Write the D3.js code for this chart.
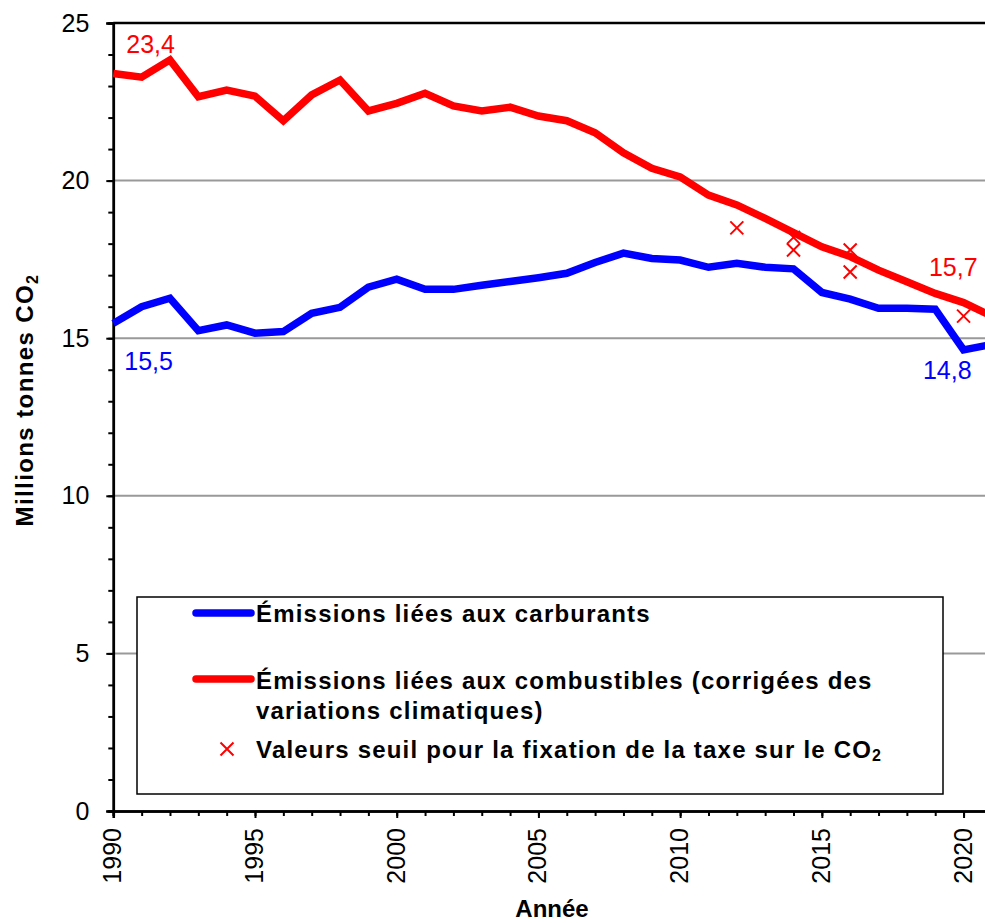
<!DOCTYPE html>
<html>
<head>
<meta charset="utf-8">
<script src="https://cdn.jsdelivr.net/npm/d3@7"></script>
<style>
  html, body { margin: 0; padding: 0; background: #fff; }
  svg { display: block; }
  text { font-family: "Liberation Sans", Arial, sans-serif; }
</style>
</head>
<body>
<svg id="chart" width="985" height="923"></svg>
<script>
// ---- Data ----
const years = d3.range(1990, 2022);
const carburants = [15.47, 16.0, 16.27, 15.24, 15.42, 15.16, 15.21, 15.79, 15.98, 16.62,
  16.87, 16.55, 16.55, 16.68, 16.80, 16.92, 17.06, 17.40, 17.70, 17.53,
  17.48, 17.25, 17.38, 17.25, 17.20, 16.45, 16.24, 15.95, 15.95, 15.92,
  14.63, 14.80];
const combustibles = [23.40, 23.28, 23.83, 22.66, 22.87, 22.68, 21.90, 22.72, 23.19, 22.21,
  22.45, 22.77, 22.37, 22.21, 22.33, 22.05, 21.90, 21.52, 20.88, 20.39,
  20.12, 19.54, 19.23, 18.80, 18.35, 17.90, 17.59, 17.16, 16.79, 16.42,
  16.13, 15.70];
const seuilYears = [2012, 2014, 2014, 2016, 2016, 2020];
const seuilValues = [18.5, 18.2, 17.8, 17.8, 17.1, 15.7];
const yTicks = [0, 5, 10, 15, 20, 25];
const xTicks = [1990, 1995, 2000, 2005, 2010, 2015, 2020];
const legendLabels = [
  ["Émissions liées aux carburants"],
  ["Émissions liées aux combustibles (corrigées des", "variations climatiques)"],
  ["Valeurs seuil pour la fixation de la taxe sur le CO"]
];
const valueLabels = [
  {text: "23,4", year: 1990, value: 23.4, color: "#ff0000"},
  {text: "15,5", year: 1990, value: 15.5, color: "#0000ff"},
  {text: "15,7", year: 2021, value: 15.7, color: "#ff0000"},
  {text: "14,8", year: 2021, value: 14.8, color: "#0000ff"}
];

const BLUE = "#0000ff", RED = "#ff0000";

// ---- Scales ----
const x = d3.scaleLinear().domain([1990, 2021]).range([113.3, 991.9]);
const y = d3.scaleLinear().domain([0, 25]).range([811, 23]);

const svg = d3.select("#chart");

// gridlines
svg.append("g").selectAll("line").data(yTicks.filter(t => t > 0 && t < 25)).join("line")
  .attr("x1", x(1990)).attr("x2", 985)
  .attr("y1", d => y(d)).attr("y2", d => y(d))
  .attr("stroke", "#999").attr("stroke-width", 2);

// top border
svg.append("line").attr("x1", x(1990)).attr("x2", 985)
  .attr("y1", y(25)).attr("y2", y(25)).attr("stroke", "#000").attr("stroke-width", 2.5);

// y axis
const yAxisMinor = d3.axisLeft(y).tickValues(d3.range(0, 26, 1)).tickSize(5).tickFormat("");
const yAxisMajor = d3.axisLeft(y).tickValues(yTicks).tickSize(7).tickFormat(d => d).tickPadding(17);
const gyMinor = svg.append("g").attr("transform", `translate(${x(1990)},0)`).call(yAxisMinor);
const gy = svg.append("g").attr("transform", `translate(${x(1990)},0)`).call(yAxisMajor);
[gyMinor, gy].forEach(g => {
  g.select(".domain").attr("stroke", "#000").attr("stroke-width", 2.5);
  g.selectAll(".tick line").attr("stroke", "#000").attr("stroke-width", 2);
});
gy.selectAll(".tick text").attr("font-size", 25).attr("fill", "#000")
  .attr("font-family", "Liberation Sans, Arial, sans-serif");

// x axis
const xAxisMinor = d3.axisBottom(x).tickValues(years).tickSize(5).tickFormat("");
const xAxisMajor = d3.axisBottom(x).tickValues(xTicks).tickSize(7).tickFormat("");
const gxMinor = svg.append("g").attr("transform", `translate(0,${y(0)})`).call(xAxisMinor);
const gx = svg.append("g").attr("transform", `translate(0,${y(0)})`).call(xAxisMajor);
[gxMinor, gx].forEach(g => {
  g.select(".domain").attr("stroke", "#000").attr("stroke-width", 2.5);
  g.selectAll(".tick line").attr("stroke", "#000").attr("stroke-width", 2);
});
svg.append("g").selectAll("text").data(xTicks).join("text")
  .attr("transform", d => `translate(${x(d) + 8},828) rotate(-90)`)
  .attr("text-anchor", "end").attr("font-size", 25).attr("fill", "#000")
  .text(d => d);

// axis titles
svg.append("text").attr("x", 552).attr("y", 917).attr("text-anchor", "middle")
  .attr("font-size", 24).attr("font-weight", "bold").text("Année");
const yt = svg.append("text").attr("transform", "translate(33,400) rotate(-90)")
  .attr("text-anchor", "middle").attr("font-size", 24).attr("font-weight", "bold")
  .attr("letter-spacing", 1.4);
yt.append("tspan").text("Millions tonnes CO");
yt.append("tspan").attr("font-size", 16).attr("dy", 5).text("2");

// lines
const line = d3.line().x((d, i) => x(years[i])).y(d => y(d));
svg.append("path").datum(carburants).attr("d", line)
  .attr("fill", "none").attr("stroke", BLUE).attr("stroke-width", 7.5).attr("stroke-linejoin", "miter");
svg.append("path").datum(combustibles).attr("d", line)
  .attr("fill", "none").attr("stroke", RED).attr("stroke-width", 7.5).attr("stroke-linejoin", "miter");

// crosses
const cs = 6.5;
const crossPath = (cx, cy) => `M${cx - cs},${cy - cs}L${cx + cs},${cy + cs}M${cx - cs},${cy + cs}L${cx + cs},${cy - cs}`;
svg.append("g").selectAll("path").data(seuilValues).join("path")
  .attr("d", (d, i) => crossPath(x(seuilYears[i]), y(d)))
  .attr("stroke", RED).attr("stroke-width", 2).attr("fill", "none");

// value labels
const labelPos = [
  {dx: 13, dy: -20},   // 23,4
  {dx: 11, dy: 48},    // 15,5
  {dx: -63, dy: -40},  // 15,7
  {dx: -69, dy: 34}    // 14,8
];
svg.append("g").selectAll("text").data(valueLabels).join("text")
  .attr("x", (d, i) => x(d.year) + labelPos[i].dx)
  .attr("y", (d, i) => y(d.value) + labelPos[i].dy)
  .attr("font-size", 25).attr("fill", d => d.color).text(d => d.text);

// legend
const lg = svg.append("g");
lg.append("rect").attr("x", 137).attr("y", 597).attr("width", 806).attr("height", 197)
  .attr("fill", "#fff").attr("stroke", "#000").attr("stroke-width", 1.5);
lg.append("line").attr("x1", 196).attr("x2", 251).attr("y1", 613).attr("y2", 613)
  .attr("stroke", BLUE).attr("stroke-width", 7.5).attr("stroke-linecap", "round");
lg.append("line").attr("x1", 196).attr("x2", 251).attr("y1", 679).attr("y2", 679)
  .attr("stroke", RED).attr("stroke-width", 7.5).attr("stroke-linecap", "round");
lg.append("path").attr("d", crossPath(227, 749)).attr("stroke", RED).attr("stroke-width", 2);
const legText = (yy, str) => lg.append("text").attr("x", 256).attr("y", yy)
  .attr("font-size", 24).attr("font-weight", "bold").attr("letter-spacing", 1.2).text(str);
legText(622, legendLabels[0][0]);
legText(689, legendLabels[1][0]);
legText(719, legendLabels[1][1]);
const t3 = legText(758, legendLabels[2][0]);
t3.append("tspan").attr("font-size", 16).attr("dy", 3).text("2");
</script>
</body>
</html>
